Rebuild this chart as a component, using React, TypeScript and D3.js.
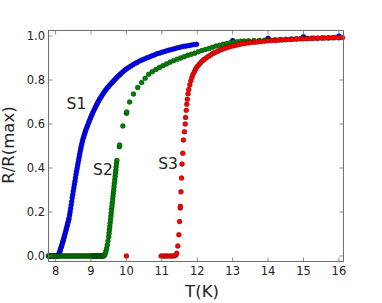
import * as d3 from 'd3'
import React from 'react'

// tick values
const xTicks = [8, 9, 10, 11, 12, 13, 14, 15, 16]
const yTicks = [0, 0.2, 0.4, 0.6, 0.8, 1.0]

// S1 (blue)
const s1T = [
  7.8, 7.83, 7.86, 7.89, 7.92, 7.95, 7.98, 8.01, 8.04, 8.065,
  8.08, 8.095, 8.11, 8.125, 8.14, 8.155, 8.17, 8.185, 8.2, 8.215, 8.23, 8.245, 8.26, 8.275, 8.29,
  8.305, 8.32, 8.335, 8.35, 8.365, 8.38, 8.395, 8.41, 8.425, 8.44, 8.455, 8.47, 8.485, 8.5, 8.515,
  8.53, 8.545, 8.56, 8.575, 8.59, 8.605, 8.62, 8.635, 8.65, 8.665, 8.68, 8.695, 8.71, 8.725, 8.74,
  8.76, 8.78, 8.8, 8.82, 8.84, 8.86, 8.885, 8.91, 8.935, 8.96, 8.985, 9.01, 9.035, 9.06, 9.09,
  9.12, 9.15, 9.18, 9.21, 9.24, 9.275, 9.31, 9.345, 9.38, 9.415, 9.45, 9.49, 9.53, 9.57, 9.61,
  9.65, 9.69, 9.73, 9.77, 9.81, 9.85, 9.9, 9.95, 10.0, 10.06, 10.12, 10.18, 10.24, 10.3, 10.37,
  10.44, 10.51, 10.58, 10.65, 10.72, 10.79, 10.86, 10.93, 11.0, 11.07, 11.14, 11.21, 11.28, 11.35,
  11.42, 11.49, 11.56, 11.63, 11.7, 11.77, 11.84, 11.91, 11.98,
  13.0, 14.0, 15.0, 16.0
]
const s1R = [
  0, 0, 0, 0, 0, 0, 0, 0, 0, 0.002,
  0.005, 0.01, 0.016, 0.024, 0.031, 0.039, 0.046, 0.054, 0.063, 0.071, 0.08, 0.088, 0.097, 0.106, 0.115,
  0.124, 0.133, 0.143, 0.152, 0.162, 0.172, 0.186, 0.2, 0.216, 0.232, 0.248, 0.265, 0.28, 0.295, 0.31,
  0.325, 0.34, 0.355, 0.37, 0.384, 0.397, 0.41, 0.423, 0.436, 0.449, 0.462, 0.475, 0.487, 0.499, 0.51,
  0.523, 0.535, 0.546, 0.556, 0.566, 0.575, 0.586, 0.596, 0.607, 0.617, 0.627, 0.636, 0.646, 0.655, 0.665,
  0.675, 0.685, 0.694, 0.703, 0.712, 0.721, 0.73, 0.739, 0.747, 0.755, 0.762, 0.769, 0.777, 0.784, 0.791,
  0.798, 0.805, 0.812, 0.818, 0.824, 0.83, 0.837, 0.844, 0.85, 0.857, 0.863, 0.869, 0.875, 0.88, 0.886,
  0.891, 0.896, 0.901, 0.905, 0.91, 0.914, 0.919, 0.922, 0.926, 0.929, 0.933, 0.936, 0.939, 0.942,
  0.945, 0.948, 0.951, 0.953, 0.955, 0.957, 0.959, 0.961, 0.962,
  0.979, 0.99, 0.997, 1.0
]

// S2 (green)
const s2T = [
  7.8, 7.84, 7.88, 7.92, 7.96, 8.0, 8.04, 8.08, 8.12, 8.16, 8.2, 8.24, 8.28, 8.32, 8.36, 8.4,
  8.44, 8.48, 8.52, 8.56, 8.6, 8.64, 8.68, 8.72, 8.76, 8.8, 8.84, 8.88, 8.92, 8.96, 9.0,
  9.02, 9.04, 9.06, 9.08, 9.1, 9.12, 9.14, 9.16, 9.18, 9.2, 9.22, 9.24, 9.26, 9.28, 9.3, 9.32, 9.34,
  9.36, 9.38, 9.4, 9.42, 9.44, 9.46, 9.48, 9.5, 9.51, 9.52, 9.53, 9.54, 9.55, 9.56, 9.57, 9.58,
  9.59, 9.6, 9.61, 9.62, 9.63, 9.64, 9.65, 9.66, 9.67, 9.68, 9.69, 9.7, 9.71, 9.72, 9.73,
  9.8, 9.81, 9.9, 10.0, 10.01, 10.09, 10.2, 10.32, 10.43, 10.53, 10.63, 10.73, 10.83, 10.93, 11.03,
  11.13, 11.23, 11.33, 11.43, 11.53, 11.63, 11.73, 11.83, 11.93, 12.03, 12.13, 12.23, 12.33, 12.43,
  12.53, 12.63, 12.73, 12.83, 12.93, 13.03, 13.13, 13.23, 13.33, 13.45, 13.6, 13.75, 13.9, 14.05,
  14.2, 14.35, 14.5, 14.65, 14.8, 14.95, 15.1, 15.25, 15.4, 15.55, 15.7, 15.85, 16.0
]
const s2R = [
  0, 0, 0, 0, 0, 0, 0, 0, 0, 0, 0, 0, 0, 0, 0, 0,
  0, 0, 0, 0, 0, 0, 0, 0, 0, 0, 0, 0, 0, 0, 0,
  0, 0, 0, 0, 0, 0, 0, 0, 0, 0, 0, 0, 0, 0, 0, 0, 0,
  0, 0.004, 0.01, 0.02, 0.034, 0.05, 0.068, 0.088, 0.103, 0.118, 0.133, 0.149, 0.164, 0.179, 0.194, 0.21,
  0.225, 0.24, 0.255, 0.27, 0.285, 0.3, 0.315, 0.33, 0.345, 0.36, 0.375, 0.39, 0.405, 0.42, 0.434,
  0.497, 0.505, 0.591, 0.649, 0.655, 0.7, 0.736, 0.766, 0.789, 0.808, 0.826, 0.838, 0.848, 0.857, 0.865,
  0.873, 0.881, 0.888, 0.894, 0.9, 0.906, 0.912, 0.917, 0.922, 0.928, 0.934, 0.939, 0.943, 0.949,
  0.954, 0.958, 0.962, 0.966, 0.969, 0.972, 0.974, 0.976, 0.977, 0.978, 0.979, 0.98, 0.981, 0.982,
  0.983, 0.984, 0.985, 0.986, 0.987, 0.988, 0.989, 0.99, 0.99, 0.991, 0.991, 0.992, 0.992
]

// S3 (red)
const s3T = [
  10.0, 10.98, 11.04, 11.1, 11.16, 11.22, 11.28, 11.34, 11.39, 11.42, 11.45, 11.48, 11.5, 11.52,
  11.525, 11.54, 11.555, 11.57, 11.59, 11.61, 11.64, 11.66, 11.67, 11.69, 11.705, 11.72, 11.74,
  11.76, 11.79, 11.82, 11.85, 11.88, 11.92, 11.96, 12.0, 12.05, 12.1, 12.15, 12.2, 12.26, 12.32,
  12.38, 12.44, 12.5, 12.57, 12.64, 12.71, 12.78, 12.85, 12.93, 13.01, 13.09, 13.17, 13.25, 13.34,
  13.43, 13.52, 13.61, 13.7, 13.8, 13.9, 14.0, 14.1, 14.2, 14.3, 14.4, 14.5, 14.6, 14.7, 14.8,
  14.9, 15.0, 15.1, 15.2, 15.3, 15.4, 15.5, 15.6, 15.7, 15.8, 15.9, 16.0, 16.1
]
const s3R = [
  0, 0, 0, 0, 0, 0, 0, 0, 0.003, 0.012, 0.045, 0.097, 0.157, 0.218,
  0.226, 0.292, 0.355, 0.418, 0.467, 0.527, 0.565, 0.6, 0.63, 0.662, 0.69, 0.712, 0.737,
  0.757, 0.778, 0.797, 0.812, 0.826, 0.839, 0.851, 0.861, 0.871, 0.879, 0.887, 0.894, 0.901, 0.908,
  0.914, 0.92, 0.925, 0.93, 0.935, 0.94, 0.944, 0.948, 0.952, 0.955, 0.958, 0.961, 0.964, 0.966,
  0.968, 0.97, 0.972, 0.973, 0.975, 0.976, 0.978, 0.979, 0.98, 0.981, 0.982, 0.983, 0.984, 0.985, 0.986,
  0.987, 0.988, 0.988, 0.989, 0.99, 0.99, 0.991, 0.991, 0.992, 0.992, 0.993, 0.993, 0.993
]

// curve labels, anchored in data units (T, R)
const seriesNames = ['S1', 'S2', 'S3']
const nameT = [8.31, 9.06, 10.9]
const nameR = [0.666, 0.368, 0.395]

const series = [
  { t: s1T, r: s1R, color: '#0000ff' },
  { t: s2T, r: s2R, color: '#008000' },
  { t: s3T, r: s3R, color: '#ff0000' }
]

export default function App() {
  const width = 382
  const height = 303
  const left = 48.5
  const right = 343.5
  const top = 30.5
  const bottom = 261.5

  const x = d3.scaleLinear().domain([7.8, 16.13]).range([left, right])
  const y = d3.scaleLinear().domain([-0.025, 1.025]).range([bottom, top])
  const tick = 4
  const font = 'DejaVu Sans, sans-serif'

  return (
    <svg
      width={width}
      height={height}
      style={{ position: 'absolute', left: 0, top: 0, background: '#fff' }}
      fontFamily={font}
    >
      {/* data */}
      <g>
        {series.map((s, i) => (
          <g key={i} fill={s.color} stroke="#000" strokeOpacity={0.55} strokeWidth={0.5}>
            {s.t.map((t, j) => (
              <circle key={j} cx={x(t)} cy={y(s.r[j])} r={2.5} />
            ))}
          </g>
        ))}
      </g>

      {/* frame */}
      <rect x={left} y={top} width={right - left} height={bottom - top} fill="none" stroke="#6e6e6e" strokeWidth={1} />

      {/* x ticks */}
      {xTicks.map((v) => (
        <g key={'x' + v} stroke="#6e6e6e" strokeWidth={0.8}>
          <line x1={x(v)} x2={x(v)} y1={bottom} y2={bottom - tick} />
          <line x1={x(v)} x2={x(v)} y1={top} y2={top + tick} />
        </g>
      ))}
      {xTicks.map((v) => (
        <text key={'xl' + v} x={x(v)} y={274.5} textAnchor="middle" fontSize={11.5} fill="#222">
          {v}
        </text>
      ))}

      {/* y ticks */}
      {yTicks.map((v) => (
        <g key={'y' + v} stroke="#6e6e6e" strokeWidth={0.8}>
          <line x1={left} x2={left + tick} y1={y(v)} y2={y(v)} />
          <line x1={right} x2={right - tick} y1={y(v)} y2={y(v)} />
        </g>
      ))}
      {yTicks.map((v) => (
        <text key={'yl' + v} x={45} y={y(v) + 4.2} textAnchor="end" fontSize={11.5} fill="#222">
          {d3.format('.1f')(v)}
        </text>
      ))}

      {/* axis titles */}
      <text x={202} y={297} textAnchor="middle" fontSize={16.5} fill="#222">
        T(K)
      </text>
      <text transform={`translate(13.5,145) rotate(-90)`} textAnchor="middle" fontSize={16.5} fill="#222">
        R/R(max)
      </text>

      {/* curve names */}
      {seriesNames.map((n, i) => (
        <text key={n} x={x(nameT[i])} y={y(nameR[i])} fontSize={15.5} fill="#222">
          {n}
        </text>
      ))}
    </svg>
  )
}
